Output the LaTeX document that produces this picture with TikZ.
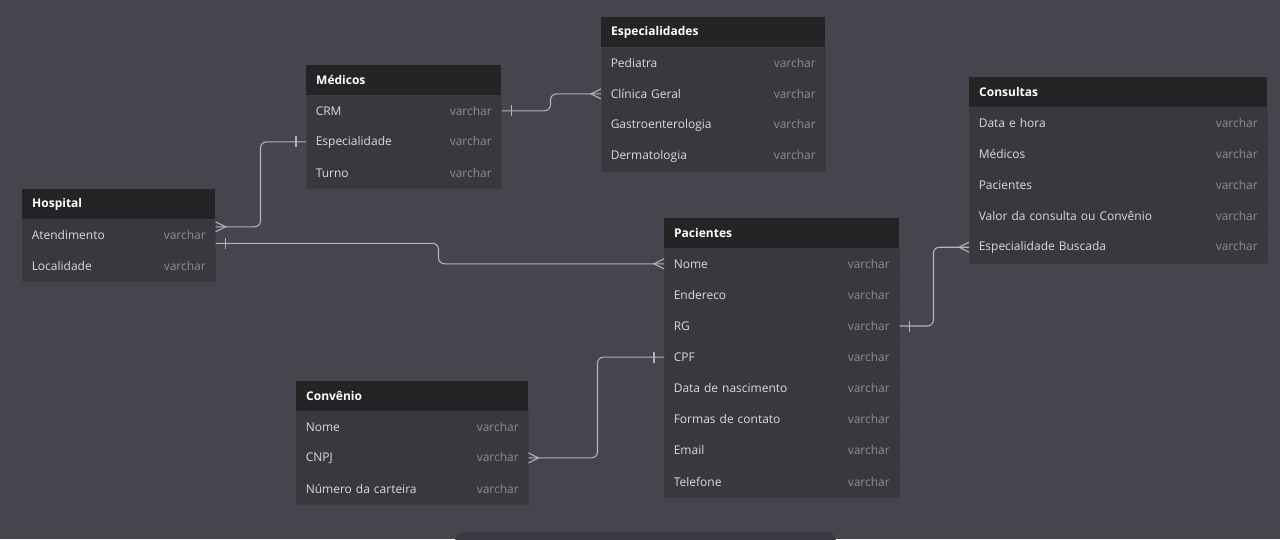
\documentclass[tikz,border=0pt]{standalone}
\usepackage{fontspec}
\setmainfont{Open Sans}
\definecolor{bg}{RGB}{69,69,78}
\definecolor{bodyc}{RGB}{56,56,63}
\definecolor{hdrc}{RGB}{36,36,38}
\definecolor{txt}{RGB}{218,218,222}
\definecolor{vc}{RGB}{140,140,148}
\definecolor{ln}{RGB}{178,178,188}
\definecolor{sepc}{RGB}{60,60,68}
\definecolor{panel}{RGB}{58,58,66}
\tikzset{
  hdrbox/.style={fill=hdrc, minimum height=30pt, inner xsep=10pt, inner ysep=0pt, anchor=north west, text=white, font=\fontsize{12}{14}\selectfont\bfseries, align=left},
  rowbox/.style={fill=bodyc, draw=sepc, line width=0.5pt, minimum height=31.1pt, inner xsep=9.5pt, inner ysep=0pt, anchor=north west, text=txt, font=\fontsize{12}{14}\selectfont, align=left},
  conn/.style={draw=ln, line width=1.1pt, rounded corners=6pt},
  crow/.pic={\draw[draw=ln, line width=1.1pt] (0,-5) -- (10,0) -- (0,5);},
  onebar/.pic={\draw[draw=ln, line width=1.1pt] (10,-5.5) -- (10,5.5);}
}
\newcommand{\ertable}[6]{%
  \node[hdrbox, text width=#4pt] (#1) at (#2,#3) {#5};
  \foreach \t [count=\i] in {#6} {
    \node[rowbox, text width=#4pt+1pt] (#1-\i) at (#2,{#3+30+(\i-1)*31.1}) {\t\hfill\textcolor{vc}{varchar}};
  }
}
\begin{document}
\begin{tikzpicture}[x=1pt,y=-1pt]
\useasboundingbox (0,0) rectangle (1280,539);
\clip (0,0) rectangle (1280,539);
\fill[bg] (0,0) rectangle (1280,539);
\fill[panel, rounded corners=9pt] (455,532) rectangle (836,570);

\ertable{hos}{22}{189}{173}{Hospital}{Atendimento,Localidade}
\ertable{med}{306}{65}{175}{Médicos}{CRM,Especialidade,Turno}
\ertable{esp}{601}{17}{204}{Especialidades}{Pediatra,Clínica Geral,Gastroenterologia,Dermatologia}
\ertable{con}{969}{77}{278}{Consultas}{Data e hora,Médicos,Pacientes,Valor da consulta ou Convênio,Especialidade Buscada}
\ertable{pac}{664}{218}{215}{Pacientes}{Nome,Endereco,RG,CPF,Data de nascimento,Formas de contato,Email,Telefone}
\ertable{cv}{296}{381}{212}{Convênio}{Nome,CNPJ,Número da carteira}

\coordinate (hosA) at ([yshift=8pt]hos-1.east);
\coordinate (hosB) at ([yshift=-8.5pt]hos-1.east);

% Medicos CRM -> Especialidades Clinica Geral
\draw[conn] (med-1.east) -- ++(49,0) |- (esp-2.west);
\pic at (med-1.east) {onebar};
\pic[xscale=-1] at (esp-2.west) {crow};

% Hospital -> Medicos Especialidade
\draw[conn] (hosA) -- ++(45,0) |- (med-2.west);
\pic at (hosA) {crow};
\pic[xscale=-1] at (med-2.west) {onebar};

% Hospital -> Pacientes Nome
\draw[conn] (hosB) -- ++(223,0) |- (pac-1.west);
\pic at (hosB) {onebar};
\pic[xscale=-1] at (pac-1.west) {crow};

% Pacientes RG -> Consultas Especialidade Buscada
\draw[conn] (pac-3.east) -- ++(34,0) |- (con-5.west);
\pic at (pac-3.east) {onebar};
\pic[xscale=-1] at (con-5.west) {crow};

% Convenio CNPJ -> Pacientes CPF
\draw[conn] (cv-2.east) -- ++(69,0) |- (pac-4.west);
\pic at (cv-2.east) {crow};
\pic[xscale=-1] at (pac-4.west) {onebar};
\end{tikzpicture}
\end{document}
